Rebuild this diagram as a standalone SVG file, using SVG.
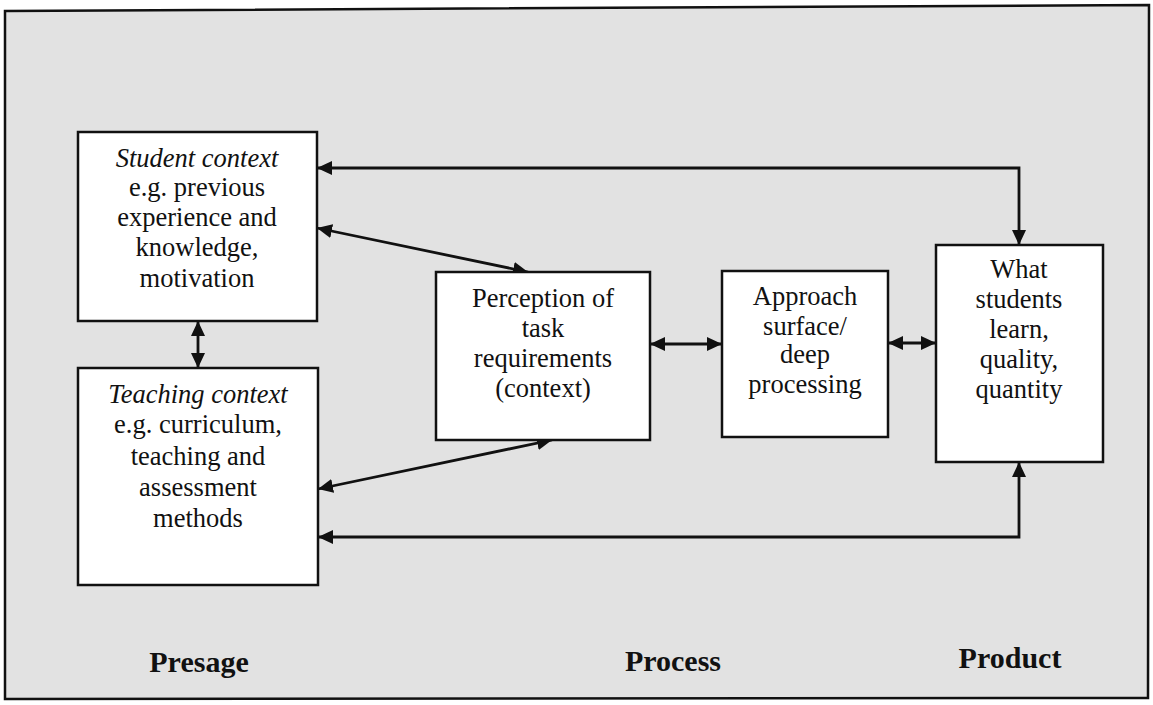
<svg xmlns="http://www.w3.org/2000/svg" width="1153" height="705" viewBox="0 0 1153 705">
  <style>
    .box { fill: #ffffff; stroke: #111111; stroke-width: 2.5; }
    .t { font-family: "Liberation Serif", "Times New Roman", serif; font-size: 26.5px; fill: #111111; text-anchor: middle; }
    .it { font-style: italic; }
    .stage { font-family: "Liberation Serif", "Times New Roman", serif; font-size: 30px; font-weight: bold; fill: #111111; text-anchor: middle; }
    .conn { fill: none; stroke: #111111; stroke-width: 2.8; marker-start: url(#head); marker-end: url(#head); }
  </style>
  <defs>
    <marker id="head" markerUnits="userSpaceOnUse" markerWidth="16" markerHeight="16" refX="15" refY="7" orient="auto-start-reverse">
      <path d="M0,0 L15,7 L0,14 Z" fill="#111111"/>
    </marker>
  </defs>

  <!-- page and frame -->
  <rect x="0" y="0" width="1153" height="705" fill="#ffffff"/>
  <path d="M5,11 L1149,5 L1148,698 L5,699 Z" fill="#e2e2e2" stroke="#111111" stroke-width="2.5"/>

  <!-- connectors -->
  <g id="connectors">
    <path class="conn" d="M317,168 H1019 V245"/>
    <path class="conn" d="M317,228 L528,272"/>
    <path class="conn" d="M318,489 L552,440"/>
    <path class="conn" d="M318,537 H1019 V462"/>
    <path class="conn" d="M198,321 V368"/>
    <path class="conn" d="M650,344 H722"/>
    <path class="conn" d="M888,343 H936"/>
  </g>

  <g id="student-context">
    <rect class="box" x="78" y="132" width="239" height="189"/>
    <text class="t it" x="197" y="167">Student context</text>
    <text class="t" x="197" y="196">e.g. previous</text>
    <text class="t" x="197" y="226">experience and</text>
    <text class="t" x="197" y="256">knowledge,</text>
    <text class="t" x="197" y="287">motivation</text>
  </g>

  <g id="teaching-context">
    <rect class="box" x="78" y="368" width="240" height="217"/>
    <text class="t it" x="198" y="403">Teaching context</text>
    <text class="t" x="198" y="433">e.g. curriculum,</text>
    <text class="t" x="198" y="465">teaching and</text>
    <text class="t" x="198" y="496">assessment</text>
    <text class="t" x="198" y="527">methods</text>
  </g>

  <g id="perception">
    <rect class="box" x="436" y="272" width="214" height="168"/>
    <text class="t" x="543" y="307">Perception of</text>
    <text class="t" x="543" y="337">task</text>
    <text class="t" x="543" y="367">requirements</text>
    <text class="t" x="543" y="397">(context)</text>
  </g>

  <g id="approach">
    <rect class="box" x="722" y="271" width="166" height="166"/>
    <text class="t" x="805" y="305">Approach</text>
    <text class="t" x="805" y="335">surface/</text>
    <text class="t" x="805" y="363">deep</text>
    <text class="t" x="805" y="393">processing</text>
  </g>

  <g id="what-students-learn">
    <rect class="box" x="936" y="245" width="167" height="217"/>
    <text class="t" x="1019" y="278">What</text>
    <text class="t" x="1019" y="308">students</text>
    <text class="t" x="1019" y="338">learn,</text>
    <text class="t" x="1019" y="368">quality,</text>
    <text class="t" x="1019" y="398">quantity</text>
  </g>

  <g id="stages">
    <text class="stage" x="199" y="672">Presage</text>
    <text class="stage" x="673" y="671">Process</text>
    <text class="stage" x="1010" y="668">Product</text>
  </g>
</svg>
